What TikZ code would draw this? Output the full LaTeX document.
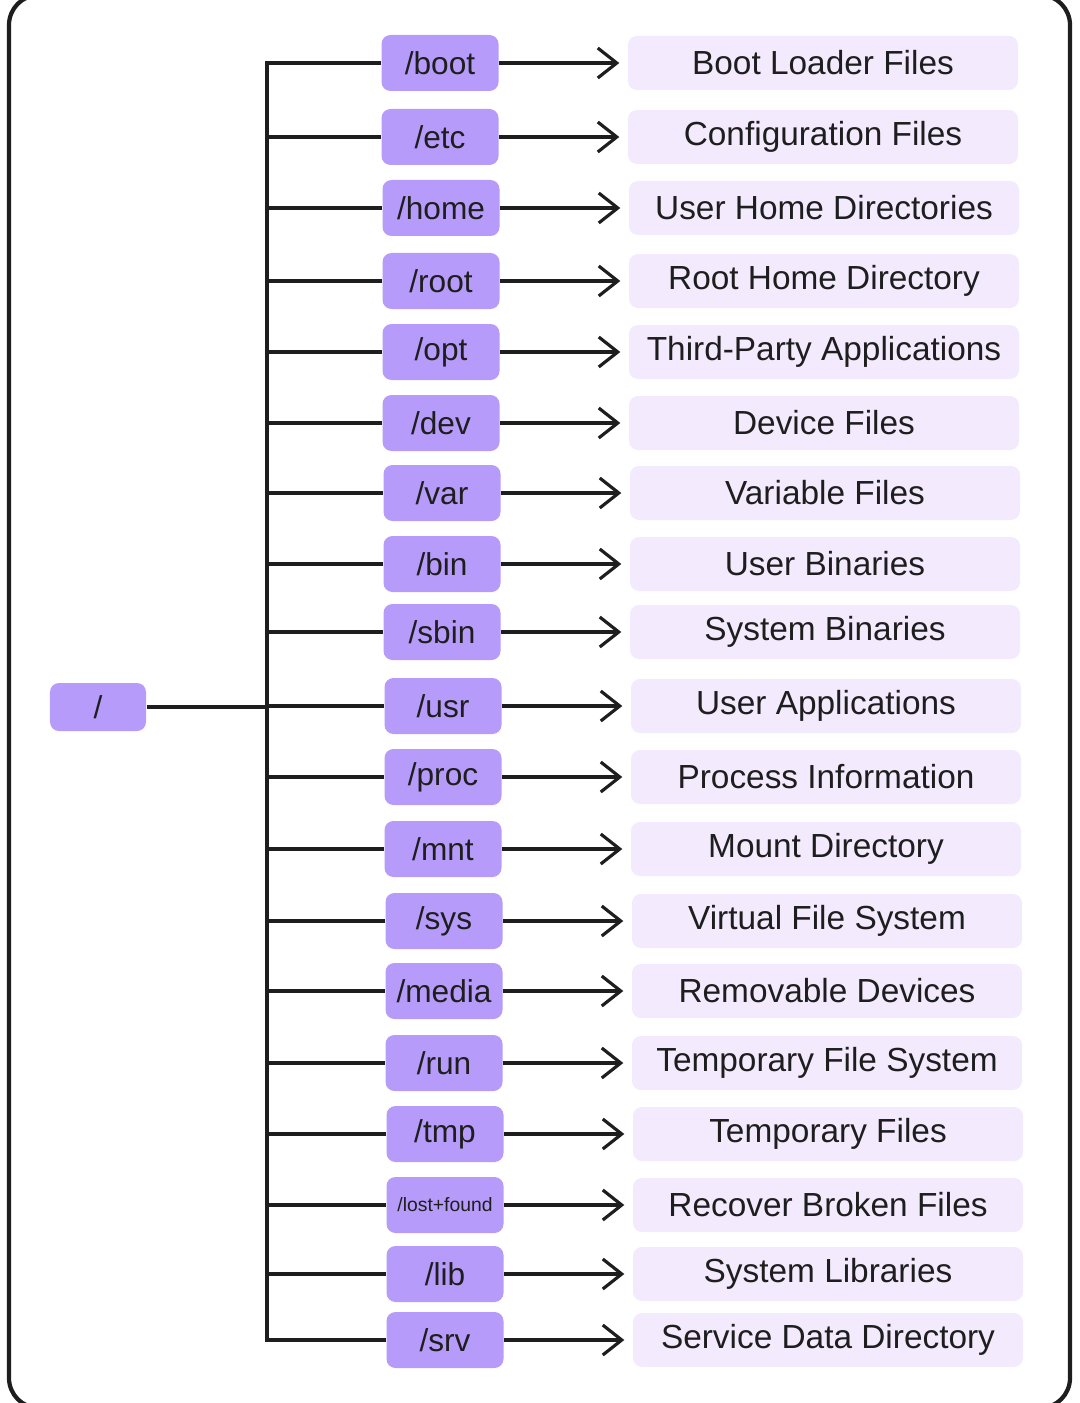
\documentclass[tikz,border=0pt]{standalone}
\usepackage{fontspec}
\setmainfont{Liberation Sans}
\usetikzlibrary{arrows, arrows.meta}
\definecolor{dirpurple}{HTML}{B69BFA}
\definecolor{desclilac}{HTML}{F3EBFD}
\definecolor{inkblack}{HTML}{1E1E1E}

\begin{document}
\begin{tikzpicture}[
    dirbox/.style={fill=dirpurple, rounded corners=0.09cm, minimum width=1.17cm, minimum height=0.56cm, inner sep=0pt, text=inkblack, font=\fontsize{9}{11}\selectfont},
    descbox/.style={fill=desclilac, rounded corners=0.09cm, minimum width=3.9cm, minimum height=0.54cm, inner sep=0pt, text=inkblack, font=\fontsize{9.5}{11}\selectfont},
    link/.style={draw=inkblack, line width=0.9pt},
    arrowlink/.style={link, >={Straight Barb[length=1.9mm, width=3mm]}, ->, shorten >=0.8mm},
    ]
    \useasboundingbox (0,0) rectangle (10.8,-14.03);
    \draw[inkblack, line width=1.2pt, rounded corners=0.3cm] (0.09,0.05) rectangle (10.70,-14.08);
    
    % root and the bus
    \draw(0.98,-7.07) node[dirbox, minimum width=0.96cm, minimum height=0.48cm] (slash) {/};
    \coordinate (bus) at (2.67,0);
    
    % directories
    \draw(4.40,-0.63) node[dirbox] (boot) {/boot};
    \draw(4.40,-1.37) node[dirbox] (etc) {/etc};
    \draw(4.41,-2.08) node[dirbox] (home) {/home};
    \draw(4.41,-2.81) node[dirbox] (rootdir) {/root};
    \draw(4.41,-3.52) node[dirbox] (opt) {/opt};
    \draw(4.41,-4.23) node[dirbox] (dev) {/dev};
    \draw(4.42,-4.93) node[dirbox] (var) {/var};
    \draw(4.42,-5.64) node[dirbox] (bin) {/bin};
    \draw(4.42,-6.32) node[dirbox] (sbin) {/sbin};
    \draw(4.43,-7.06) node[dirbox] (usr) {/usr};
    \draw(4.43,-7.77) node[dirbox] (proc) {/proc};
    \draw(4.43,-8.49) node[dirbox] (mnt) {/mnt};
    \draw(4.44,-9.21) node[dirbox] (sys) {/sys};
    \draw(4.44,-9.91) node[dirbox] (media) {/media};
    \draw(4.44,-10.63) node[dirbox] (run) {/run};
    \draw(4.45,-11.34) node[dirbox] (tmp) {/tmp};
    \draw(4.45,-12.05) node[dirbox, font=\fontsize{5.5}{6}\selectfont] (lostfound) {/lost+found};
    \draw(4.45,-12.74) node[dirbox] (lib) {/lib};
    \draw(4.45,-13.40) node[dirbox] (srv) {/srv};
    
    % descriptions
    \draw(8.23,-0.63) node[descbox] (bootd) {Boot Loader Files};
    \draw(8.23,-1.37) node[descbox] (etcd) {Configuration Files};
    \draw(8.24,-2.08) node[descbox] (homed) {User Home Directories};
    \draw(8.24,-2.81) node[descbox] (rootdird) {Root Home Directory};
    \draw(8.24,-3.52) node[descbox] (optd) {Third-Party Applications};
    \draw(8.24,-4.23) node[descbox] (devd) {Device Files};
    \draw(8.25,-4.93) node[descbox] (vard) {Variable Files};
    \draw(8.25,-5.64) node[descbox] (bind) {User Binaries};
    \draw(8.25,-6.32) node[descbox] (sbind) {System Binaries};
    \draw(8.26,-7.06) node[descbox] (usrd) {User Applications};
    \draw(8.26,-7.77) node[descbox] (procd) {Process Information};
    \draw(8.26,-8.49) node[descbox] (mntd) {Mount Directory};
    \draw(8.27,-9.21) node[descbox] (sysd) {Virtual File System};
    \draw(8.27,-9.91) node[descbox] (mediad) {Removable Devices};
    \draw(8.27,-10.63) node[descbox] (rund) {Temporary File System};
    \draw(8.28,-11.34) node[descbox] (tmpd) {Temporary Files};
    \draw(8.28,-12.05) node[descbox] (lostfoundd) {Recover Broken Files};
    \draw(8.28,-12.74) node[descbox] (libd) {System Libraries};
    \draw(8.28,-13.40) node[descbox] (srvd) {Service Data Directory};
    
    % tree lines
    \draw[link] (slash) -- (bus |- slash);
    \draw[link] (boot) -- (bus |- boot) -- (bus |- srv) -- (srv);
    \draw[link] (bus |- etc) -- (etc);
    \draw[link] (bus |- home) -- (home);
    \draw[link] (bus |- rootdir) -- (rootdir);
    \draw[link] (bus |- opt) -- (opt);
    \draw[link] (bus |- dev) -- (dev);
    \draw[link] (bus |- var) -- (var);
    \draw[link] (bus |- bin) -- (bin);
    \draw[link] (bus |- sbin) -- (sbin);
    \draw[link] (bus |- usr) -- (usr);
    \draw[link] (bus |- proc) -- (proc);
    \draw[link] (bus |- mnt) -- (mnt);
    \draw[link] (bus |- sys) -- (sys);
    \draw[link] (bus |- media) -- (media);
    \draw[link] (bus |- run) -- (run);
    \draw[link] (bus |- tmp) -- (tmp);
    \draw[link] (bus |- lostfound) -- (lostfound);
    \draw[link] (bus |- lib) -- (lib);
    
    % arrows to descriptions
    \draw[arrowlink] (boot) -- (bootd);
    \draw[arrowlink] (etc) -- (etcd);
    \draw[arrowlink] (home) -- (homed);
    \draw[arrowlink] (rootdir) -- (rootdird);
    \draw[arrowlink] (opt) -- (optd);
    \draw[arrowlink] (dev) -- (devd);
    \draw[arrowlink] (var) -- (vard);
    \draw[arrowlink] (bin) -- (bind);
    \draw[arrowlink] (sbin) -- (sbind);
    \draw[arrowlink] (usr) -- (usrd);
    \draw[arrowlink] (proc) -- (procd);
    \draw[arrowlink] (mnt) -- (mntd);
    \draw[arrowlink] (sys) -- (sysd);
    \draw[arrowlink] (media) -- (mediad);
    \draw[arrowlink] (run) -- (rund);
    \draw[arrowlink] (tmp) -- (tmpd);
    \draw[arrowlink] (lostfound) -- (lostfoundd);
    \draw[arrowlink] (lib) -- (libd);
    \draw[arrowlink] (srv) -- (srvd);
\end{tikzpicture}
\end{document}
